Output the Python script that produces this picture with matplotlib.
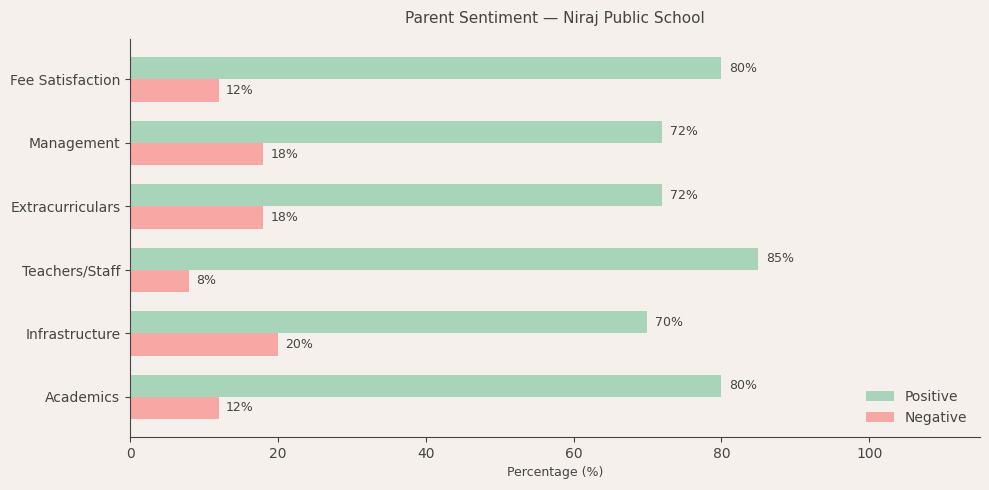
import numpy as np
import matplotlib.pyplot as plt

categories = ['Academics', 'Infrastructure', 'Teachers/Staff', 'Extracurriculars', 'Management', 'Fee Satisfaction']
positive = [80, 70, 85, 72, 72, 80]
negative = [12, 20, 8, 18, 18, 12]

bg = '#f5f0eb'
text_color = '#444444'

fig, ax = plt.subplots(figsize=(9.89, 4.9), dpi=100)
fig.patch.set_facecolor(bg)
ax.set_facecolor(bg)

y = np.arange(len(categories))
h = 0.35
b1 = ax.barh(y + h / 2, positive, h, color='#a8d5ba', label='Positive')
b2 = ax.barh(y - h / 2, negative, h, color='#f7a8a4', label='Negative')

for bars in (b1, b2):
    for bar in bars:
        w = bar.get_width()
        ax.text(w + 1, bar.get_y() + bar.get_height() / 2, f'{w:.0f}%',
                va='center', ha='left', fontsize=9, color=text_color)

ax.set_yticks(y)
ax.set_yticklabels(categories)
ax.set_xlim(0, 115)
ax.set_xlabel('Percentage (%)', fontsize=9, color=text_color)
ax.set_title('Parent Sentiment — Niraj Public School', fontsize=11, color=text_color, pad=12)
ax.tick_params(colors=text_color, labelsize=10)
for s in ['top', 'right']:
    ax.spines[s].set_visible(False)
for s in ['left', 'bottom']:
    ax.spines[s].set_color(text_color)

ax.legend(loc='lower right', frameon=False, fontsize=10, labelcolor=text_color)

plt.subplots_adjust(left=0.1315, right=0.991, top=0.92, bottom=0.108)
plt.savefig('out.png', dpi=100, facecolor=bg)
